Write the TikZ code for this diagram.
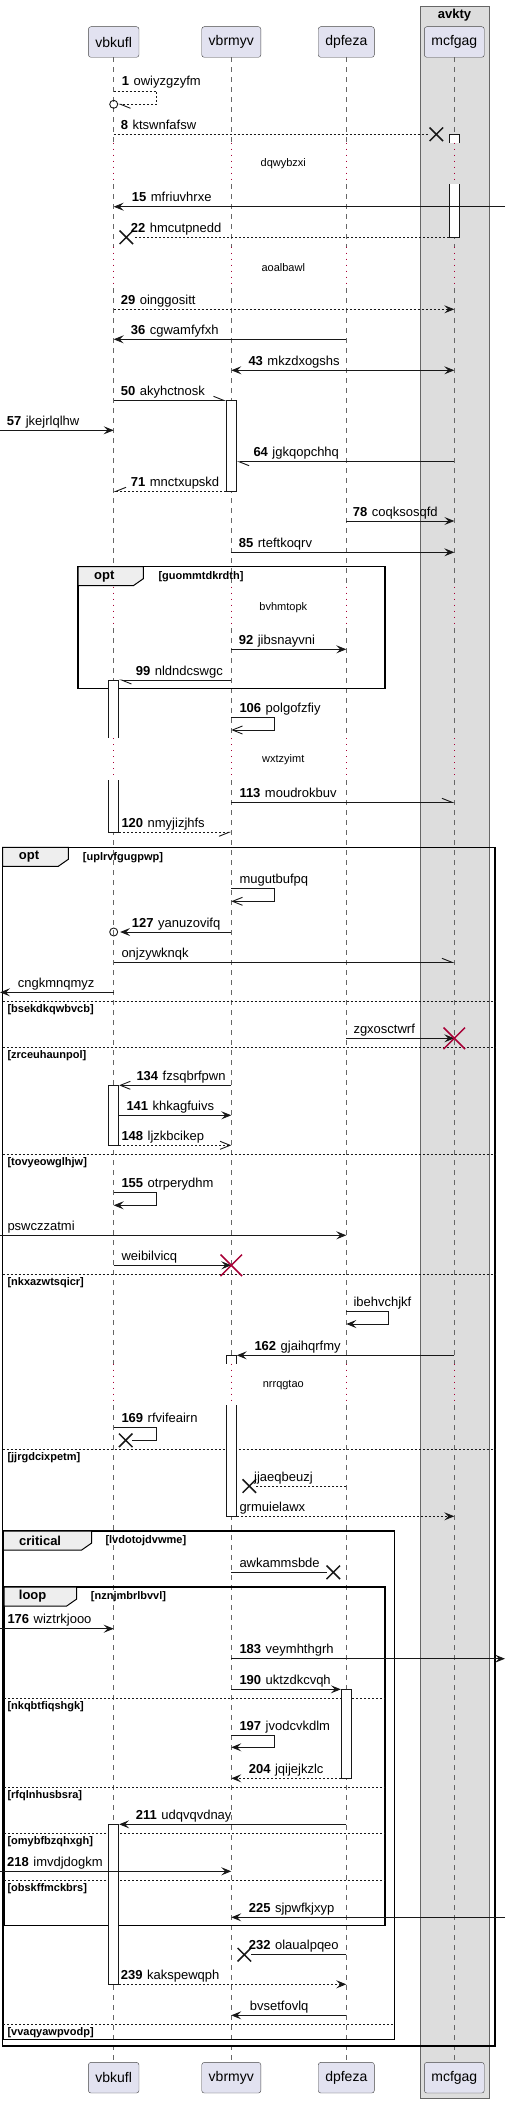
\documentclass[tikz,border=0pt]{standalone}
\usepackage{fontspec}
\setmainfont{Liberation Sans}
\usetikzlibrary{arrows.meta,shapes.misc}
\definecolor{partfill}{HTML}{E2E2F0}
\definecolor{boxgray}{HTML}{DDDDDD}
\definecolor{tabgray}{HTML}{EEEEEE}
\definecolor{delayred}{HTML}{A80036}
\definecolor{ink}{HTML}{181818}
\newcommand\seqno[1]{\textbf{#1}\hspace{4.5pt}}
\tikzset{
  barb/.tip={Straight Barb[length=10pt,width=8pt]},
  hbarb/.tip={Straight Barb[length=10pt,width=8pt,harpoon]},
  hbarbs/.tip={Straight Barb[length=10pt,width=8pt,harpoon,swap]},
  part/.style={draw=ink!80, fill=partfill, rounded corners=2.5pt, minimum height=30.6pt, inner xsep=7pt, font=\fontsize{14}{16}\selectfont},
  life/.style={gray!80!black, line width=0.7pt, dash pattern=on 5pt off 5pt},
  delay/.style={delayred, line width=0.9pt, dash pattern=on 1pt off 5pt},
  act/.style={draw=ink, fill=white, line width=0.9pt, minimum width=10pt, inner sep=0pt},
  msg/.style={ink, line width=0.9pt},
  ret/.style={msg, dash pattern=on 2pt off 2pt},
  lbl/.style={anchor=base west, inner sep=0pt, font=\fontsize{13}{15}\selectfont},
  dlytxt/.style={inner sep=0pt, font=\fontsize{11}{13}\selectfont},
  grp/.style={draw=black, line width=1.5pt},
  tabshape/.style={draw=black, line width=1pt, fill=tabgray},
  grpname/.style={anchor=west, inner sep=0pt, font=\bfseries\fontsize{13}{15}\selectfont},
  cond/.style={anchor=west, inner sep=0pt, font=\bfseries\fontsize{11}{13}\selectfont},
  altsep/.style={ink, line width=0.8pt, dash pattern=on 2pt off 2pt},
  lost/.style={cross out, draw=ink, line width=1.5pt, minimum size=12pt, inner sep=0pt},
  kill/.style={cross out, draw=delayred, line width=1.5pt, minimum size=20pt, inner sep=0pt},
  ring/.style={circle, draw=ink, line width=0.9pt, minimum size=8pt, inner sep=0pt}
}
\begin{document}
\begin{tikzpicture}[x=1pt,y=-1pt,>={Stealth[length=10pt,width=8pt,inset=4pt]}]
  \useasboundingbox (0,0) rectangle (509,2103);
  % box around mcfgag
  \draw[gray!80!black, fill=boxgray] (420.3,6) rectangle (488.7,2098.3);
  \node[font=\bfseries\fontsize{13}{15}\selectfont] (avkty) at (454.5,15.5) {avkty};
  % participants
  \node[part] (vbkufl) at (113.7,42) {vbkufl};
  \node[part] (vbrmyv) at (231.3,42) {vbrmyv};
  \node[part] (dpfeza) at (346.3,42) {dpfeza};
  \node[part] (mcfgag) at (454.3,42) {mcfgag};
  \node[part] (vbkuflB) at (113.7,2077.7) {vbkufl};
  \node[part] (vbrmyvB) at (231.3,2077.7) {vbrmyv};
  \node[part] (dpfezaB) at (346.3,2077.7) {dpfeza};
  \node[part] (mcfgagB) at (454.3,2077.7) {mcfgag};
  \coordinate (lft) at (0,0);
  \coordinate (rgt) at (505,0);
  % lifelines
  \foreach \p in {vbkufl,vbrmyv,dpfeza,mcfgag}{
    \foreach \ya/\yb in {57.3/142.7,184.3/246.5,288/586.5,628/738.3,780/1363.7,1405/2062.7}
      \draw[life] (\p |- 0,\ya) -- (\p |- 0,\yb);
    \foreach \ya/\yb in {142.7/184.3,246.5/288,586.5/628,738.3/780,1363.7/1405}
      \draw[delay] (\p |- 0,\ya) -- (\p |- 0,\yb);
  }
  % delays
  \node[dlytxt] (dly1) at (283.3,164) {dqwybzxi};
  \node[dlytxt] (dly2) at (283.3,267.3) {aoalbawl};
  \node[dlytxt] (dly3) at (283.3,607.3) {bvhmtopk};
  \node[dlytxt] (dly4) at (283.3,760) {wxtzyimt};
  \node[dlytxt] (dly5) at (283.3,1385.3) {nrrqgtao};
  % groups
  \draw[grp] (78,566.7) rectangle (385,688.7);
  \draw[tabshape] (78,566.7) -- (143.3,566.7) -- (143.3,578.7) -- (133.3,585.7) -- (78,585.7) -- cycle;
  \node[grpname] (opt1) at (94,576.2) {opt};
  \node[cond] (opt1c) at (158.3,576.7) {[guommtdkrdth]};
  \draw[grp] (2.7,847.3) rectangle (495,2046);
  \draw[tabshape] (2.7,847.3) -- (68.3,847.3) -- (68.3,859.3) -- (58.3,866.3) -- (2.7,866.3) -- cycle;
  \node[grpname] (opt2) at (18.7,856.8) {opt};
  \node[cond] (opt2c) at (82.7,857.3) {[uplrvfgugpwp]};
  \draw[altsep] (2.7,1001.3) -- (495,1001.3);
  \node[cond] (s1) at (7.3,1009.3) {[bsekdkqwbvcb]};
  \draw[altsep] (2.7,1047.3) -- (495,1047.3);
  \node[cond] (s2) at (7.3,1055.3) {[zrceuhaunpol]};
  \draw[altsep] (2.7,1154.3) -- (495,1154.3);
  \node[cond] (s3) at (7.3,1162.3) {[tovyeowglhjw]};
  \draw[altsep] (2.7,1274.3) -- (495,1274.3);
  \node[cond] (s4) at (7.3,1282.3) {[nkxazwtsqicr]};
  \draw[altsep] (2.7,1449.3) -- (495,1449.3);
  \node[cond] (s5) at (7.3,1457.3) {[jjrgdcixpetm]};
  \draw[grp] (3.3,1531) rectangle (394.7,2039.3);
  \draw[tabshape] (3.3,1531) -- (91.7,1531) -- (91.7,1543) -- (81.7,1550) -- (3.3,1550) -- cycle;
  \node[grpname] (crit) at (19,1540.5) {critical};
  \node[cond] (critc) at (105.3,1541) {[lvdotojdvwme]};
  \draw[altsep] (3.3,2024.3) -- (394.7,2024.3);
  \node[cond] (s10) at (7.3,2032.3) {[vvaqyawpvodp]};
  \draw[grp] (4,1587) rectangle (385,1925.3);
  \draw[tabshape] (4,1587) -- (76.7,1587) -- (76.7,1599) -- (66.7,1606) -- (4,1606) -- cycle;
  \node[grpname] (loop) at (18.7,1596.5) {loop};
  \node[cond] (loopc) at (90.7,1597) {[nznjmbrlbvvl]};
  \draw[altsep] (4,1698.3) -- (385,1698.3);
  \node[cond] (s6) at (7.3,1706.3) {[nkqbtfiqshgk]};
  \draw[altsep] (4,1787.3) -- (385,1787.3);
  \node[cond] (s7) at (7.3,1795.3) {[rfqlnhusbsra]};
  \draw[altsep] (4,1833.3) -- (385,1833.3);
  \node[cond] (s8) at (7.3,1841.3) {[omybfbzqhxgh]};
  \draw[altsep] (4,1880.3) -- (385,1880.3);
  \node[cond] (s9) at (7.3,1888.3) {[obskffmckbrs]};
  % activations
  \node[act, minimum height=103pt] (actD1) at (mcfgag |- 0,185.8) {};
  \node[act, minimum height=91pt] (actB1) at (vbrmyv |- 0,445.8) {};
  \node[act, minimum height=152.3pt] (actA1) at (vbkufl |- 0,756.15) {};
  \node[act, minimum height=60pt] (actA2) at (vbkufl |- 0,1115.3) {};
  \node[act, minimum height=161pt] (actB2) at (vbrmyv |- 0,1435.8) {};
  \node[act, minimum height=89pt] (actC1) at (dpfeza |- 0,1733.8) {};
  \node[act, minimum height=160pt] (actA3) at (vbkufl |- 0,1904.3) {};
  \fill[boxgray] (448.3,142.7) rectangle (460.3,184.3);
  \draw[delay] (mcfgag |- 0,142.7) -- (mcfgag |- 0,184.3);
  \fill[white] (108.3,738.3) rectangle (120.3,780);
  \draw[delay] (vbkufl |- 0,738.3) -- (vbkufl |- 0,780);
  \fill[white] (226.3,1363.7) rectangle (238.3,1405);
  \draw[delay] (vbrmyv |- 0,1363.7) -- (vbrmyv |- 0,1405);
  % messages
  \node[ring] (c1) at (vbkufl |- 0,104.3) {};
  \draw[ret, -hbarb] (vbkufl |- 0,91) -- ++(43,0) |- (c1);
  \node[lbl] (t1) at (121.7,86) {\seqno{1}owiyzgzyfm};
  \node[lost] (x8) at (436.3,134.3) {};
  \draw[ret] (vbkufl |- 0,134.3) -- (x8);
  \node[lbl] (t8) at (120.7,129.3) {\seqno{8}ktswnfafsw};
  \draw[msg, ->] (rgt |- 0,206.7) -- (vbkufl |- 0,206.7);
  \node[lbl] (t15) at (131.7,201.7) {\seqno{15}mfriuvhrxe};
  \node[lost] (x22) at (126.3,237.3) {};
  \draw[ret] (actD1.west |- 0,237.3) -- (x22);
  \node[lbl] (t22) at (130.7,232.3) {\seqno{22}hmcutpnedd};
  \draw[ret, ->] (vbkufl |- 0,309.3) -- (mcfgag |- 0,309.3);
  \node[lbl] (t29) at (120.7,304.3) {\seqno{29}oinggositt};
  \draw[msg, ->] (dpfeza |- 0,339.3) -- (vbkufl |- 0,339.3);
  \node[lbl] (t36) at (130.7,334.3) {\seqno{36}cgwamfyfxh};
  \draw[msg, <->] (vbrmyv |- 0,370.3) -- (mcfgag |- 0,370.3);
  \node[lbl] (t43) at (248.3,365.3) {\seqno{43}mkzdxogshs};
  \draw[msg, -hbarb] (vbkufl |- 0,400.3) -- (actB1.west |- 0,400.3);
  \node[lbl] (t50) at (120.7,395.3) {\seqno{50}akyhctnosk};
  \draw[msg, ->] (lft |- 0,430.3) -- (vbkufl |- 0,430.3);
  \node[lbl] (t57) at (6.7,425.3) {\seqno{57}jkejrlqlhw};
  \draw[msg, -hbarb] (mcfgag |- 0,461.7) -- (actB1.east |- 0,461.7);
  \node[lbl] (t64) at (253.3,456.7) {\seqno{64}jgkqopchhq};
  \draw[ret, -hbarbs] (actB1.west |- 0,491.3) -- (vbkufl |- 0,491.3);
  \node[lbl] (t71) at (130.7,486.3) {\seqno{71}mnctxupskd};
  \draw[msg, ->] (dpfeza |- 0,521) -- (mcfgag |- 0,521);
  \node[lbl] (t78) at (352.7,516) {\seqno{78}coqksosqfd};
  \draw[msg, ->] (vbrmyv |- 0,552.3) -- (mcfgag |- 0,552.3);
  \node[lbl] (t85) at (238.7,547.3) {\seqno{85}rteftkoqrv};
  \draw[msg, ->] (vbrmyv |- 0,649.3) -- (dpfeza |- 0,649.3);
  \node[lbl] (t92) at (238.7,644.3) {\seqno{92}jibsnayvni};
  \draw[msg, -hbarb] (vbrmyv |- 0,680) -- (actA1.east |- 0,680);
  \node[lbl] (t99) at (135.7,675) {\seqno{99}nldndcswgc};
  \draw[msg, -barb] (vbrmyv |- 0,717.3) -- ++(43,0) |- (vbrmyv |- 0,730);
  \node[lbl] (t106) at (239.3,712.3) {\seqno{106}polgofzfiy};
  \draw[msg, -hbarb] (vbrmyv |- 0,802.3) -- (mcfgag |- 0,802.3);
  \node[lbl] (t113) at (239.3,797.3) {\seqno{113}moudrokbuv};
  \draw[ret, -hbarbs] (actA1.east |- 0,832.3) -- (vbrmyv |- 0,832.3);
  \node[lbl] (t120) at (121.3,827.3) {\seqno{120}nmyjizjhfs};
  \draw[msg, -barb] (vbrmyv |- 0,888.7) -- ++(43,0) |- (vbrmyv |- 0,901.3);
  \node[lbl] (tmug) at (239.3,883.7) {mugutbufpq};
  \node[ring] (c2) at (vbkufl |- 0,932) {};
  \draw[msg, ->, shorten >=2pt] (vbrmyv |- 0,932) -- (c2);
  \node[lbl] (t127) at (131.7,927) {\seqno{127}yanuzovifq};
  \draw[msg, -hbarb] (vbkufl |- 0,962.3) -- (mcfgag |- 0,962.3);
  \node[lbl] (tonj) at (121.3,957.3) {onjzywknqk};
  \draw[msg, ->] (vbkufl |- 0,992.3) -- (lft |- 0,992.3);
  \node[lbl] (tcng) at (17.7,987.3) {cngkmnqmyz};
  \draw[msg, ->] (dpfeza |- 0,1038.3) -- (mcfgag |- 0,1038.3);
  \node[kill] (k1) at (mcfgag |- 0,1038.3) {};
  \node[lbl] (tzgx) at (353.3,1033.3) {zgxosctwrf};
  \draw[msg, -barb] (vbrmyv |- 0,1085.3) -- (actA2.east |- 0,1085.3);
  \node[lbl] (t134) at (136.3,1080.3) {\seqno{134}fzsqbrfpwn};
  \draw[msg, ->] (actA2.east |- 0,1115.3) -- (vbrmyv |- 0,1115.3);
  \node[lbl] (t141) at (126.3,1110.3) {\seqno{141}khkagfuivs};
  \draw[ret, -barb] (actA2.east |- 0,1145.3) -- (vbrmyv |- 0,1145.3);
  \node[lbl] (t148) at (121.3,1140.3) {\seqno{148}ljzkbcikep};
  \draw[msg, ->] (vbkufl |- 0,1192.3) -- ++(43,0) |- (vbkufl |- 0,1205.3);
  \node[lbl] (t155) at (121.3,1187.3) {\seqno{155}otrperydhm};
  \draw[msg, ->] (lft |- 0,1235.3) -- (dpfeza |- 0,1235.3);
  \node[lbl] (tpsw) at (7.3,1230.3) {pswczzatmi};
  \draw[msg, ->] (vbkufl |- 0,1265.3) -- (vbrmyv |- 0,1265.3);
  \node[kill] (k2) at (vbrmyv |- 0,1265.3) {};
  \node[lbl] (twei) at (121.3,1260.3) {weibilvicq};
  \draw[msg, ->] (dpfeza |- 0,1311.7) -- ++(42,0) |- (dpfeza |- 0,1324);
  \node[lbl] (tibe) at (353.3,1306.7) {ibehvchjkf};
  \draw[msg, ->] (mcfgag |- 0,1355.3) -- (actB2.east |- 0,1355.3);
  \node[lbl] (t162) at (254.3,1350.3) {\seqno{162}gjaihqrfmy};
  \node[lost] (x169) at (125.7,1440.3) {};
  \draw[msg] (vbkufl |- 0,1427.3) -- ++(43,0) |- (x169);
  \node[lbl] (t169) at (121.3,1422.3) {\seqno{169}rfvifeairn};
  \node[lost] (xjja) at (249.3,1486) {};
  \draw[ret] (dpfeza |- 0,1486) -- (xjja);
  \node[lbl] (tjja) at (254,1481) {jjaeqbeuzj};
  \draw[ret, ->] (actB2.east |- 0,1516.3) -- (mcfgag |- 0,1516.3);
  \node[lbl] (tgrm) at (239.3,1511.3) {grmuielawx};
  \node[lost] (xawk) at (333.3,1572.3) {};
  \draw[msg] (vbrmyv |- 0,1572.3) -- (xawk);
  \node[lbl] (tawk) at (239.3,1567.3) {awkammsbde};
  \draw[msg, ->] (lft |- 0,1628.7) -- (vbkufl |- 0,1628.7);
  \node[lbl] (t176) at (7.3,1623.7) {\seqno{176}wiztrkjooo};
  \draw[msg, ->] (vbrmyv |- 0,1658.7) -- (rgt |- 0,1658.7);
  \node[lbl] (t183) at (239.3,1653.7) {\seqno{183}veymhthgrh};
  \draw[msg, ->] (vbrmyv |- 0,1689.3) -- (actC1.west |- 0,1689.3);
  \node[lbl] (t190) at (239.3,1684.3) {\seqno{190}uktzdkcvqh};
  \draw[msg, ->] (vbrmyv |- 0,1735.7) -- ++(43,0) |- (vbrmyv |- 0,1747.3);
  \node[lbl] (t197) at (239.3,1730.7) {\seqno{197}jvodcvkdlm};
  \draw[ret, ->] (actC1.west |- 0,1778.3) -- (vbrmyv |- 0,1778.3);
  \node[lbl] (t204) at (248.7,1773.3) {\seqno{204}jqijejkzlc};
  \draw[msg, ->] (dpfeza |- 0,1824.3) -- (actA3.east |- 0,1824.3);
  \node[lbl] (t211) at (135.7,1819.3) {\seqno{211}udqvqvdnay};
  \draw[msg, ->] (lft |- 0,1871.3) -- (vbrmyv |- 0,1871.3);
  \node[lbl] (t218) at (7,1866.3) {\seqno{218}imvdjdogkm};
  \draw[msg, ->] (rgt |- 0,1917.3) -- (vbrmyv |- 0,1917.3);
  \node[lbl] (t225) at (248.7,1912.3) {\seqno{225}sjpwfkjxyp};
  \node[lost] (xola) at (244.3,1954.7) {};
  \draw[msg] (dpfeza |- 0,1954.7) -- (xola);
  \node[lbl] (t232) at (248.7,1949.7) {\seqno{232}olaualpqeo};
  \draw[ret, ->] (actA3.east |- 0,1984.3) -- (dpfeza |- 0,1984.3);
  \node[lbl] (t239) at (120.7,1979.3) {\seqno{239}kakspewqph};
  \draw[msg, ->] (dpfeza |- 0,2015.3) -- (vbrmyv |- 0,2015.3);
  \node[lbl] (tbvs) at (249.7,2010.3) {bvsetfovlq};
\end{tikzpicture}
\end{document}
